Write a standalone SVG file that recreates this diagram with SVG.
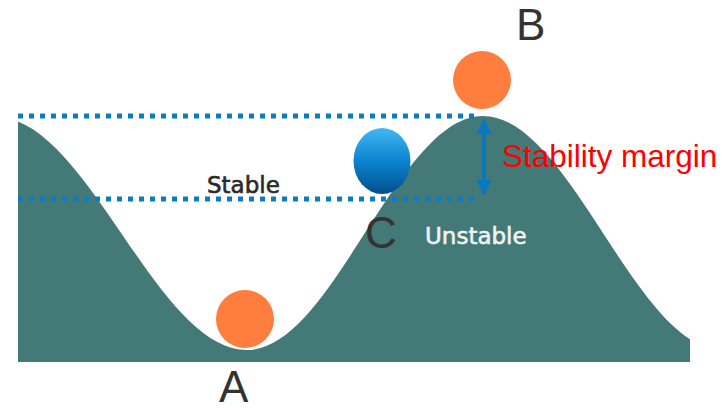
<svg xmlns="http://www.w3.org/2000/svg" width="725" height="408" viewBox="0 0 725 408">
  <style>
    .dots{stroke:#0a7cc4;stroke-width:5;stroke-dasharray:5 6;fill:none}
    .dshadow{stroke:#999;stroke-width:5;stroke-dasharray:5 6;fill:none;opacity:0.35}
    .ball{fill:#ff7d3d}
    .lbl{font-family:"Liberation Sans",Arial,sans-serif;font-size:44px;fill:#333}
    .small{font-family:"DejaVu Sans",sans-serif;font-size:23px;stroke-width:0.6}
  </style>
  <defs>
    <clipPath id="clip"><rect x="18" y="0" width="672" height="408"/></clipPath>
    <linearGradient id="blue" x1="0" y1="0" x2="0" y2="1">
      <stop offset="0" stop-color="#45b8f2"/>
      <stop offset="0.5" stop-color="#0a84d0"/>
      <stop offset="1" stop-color="#044f8c"/>
    </linearGradient>
    <filter id="blur" x="-5%" y="-50%" width="110%" height="200%"><feGaussianBlur stdDeviation="1.2"/></filter>
    <marker id="ah" viewBox="0 0 10 10" refX="9" refY="5" markerWidth="4" markerHeight="4" orient="auto-start-reverse" markerUnits="strokeWidth">
      <path d="M0 0 L10 5 L0 10 Z" fill="#0a78c0"/>
    </marker>
  </defs>

  <g id="terrain" clip-path="url(#clip)">
    <path d="M -4 117 C 87.4 117 155.6 350 247 350 C 332.9 350 397.1 116 483 116 C 570.4 116 635.6 350 723 350 L 723 362 L -4 362 Z" fill="#437a77"/>
  </g>

  <g id="connectors">
    <line class="dshadow" x1="18" y1="119" x2="480" y2="119" filter="url(#blur)"/>
    <line class="dshadow" x1="18" y1="202" x2="480" y2="202" filter="url(#blur)"/>
    <line class="dots" x1="18" y1="116" x2="480" y2="116"/>
    <line class="dots" x1="18" y1="199" x2="480" y2="199"/>
    <line x1="484" y1="120" x2="484" y2="194" stroke="#0a78c0" stroke-width="4" marker-start="url(#ah)" marker-end="url(#ah)"/>
  </g>

  <g id="ballA"><circle class="ball" cx="245" cy="319" r="29"/></g>
  <g id="ballB"><circle class="ball" cx="482" cy="80" r="29"/></g>
  <g id="ballC"><ellipse cx="382" cy="161" rx="28.5" ry="33" fill="url(#blue)"/></g>

  <g id="labels">
    <text class="lbl" x="219" y="402">A</text>
    <text class="lbl" x="516" y="40">B</text>
    <text class="lbl" x="365" y="248">C</text>
    <text class="small" x="207" y="193" fill="#2a2a2a" stroke="#2a2a2a">Stable</text>
    <text class="small" x="425" y="244" fill="#eef3f3" stroke="#eef3f3">Unstable</text>
    <text x="502" y="167" font-family="Liberation Sans,Arial,sans-serif" font-size="31.5" fill="#ff0000">Stability margin</text>
  </g>
</svg>
